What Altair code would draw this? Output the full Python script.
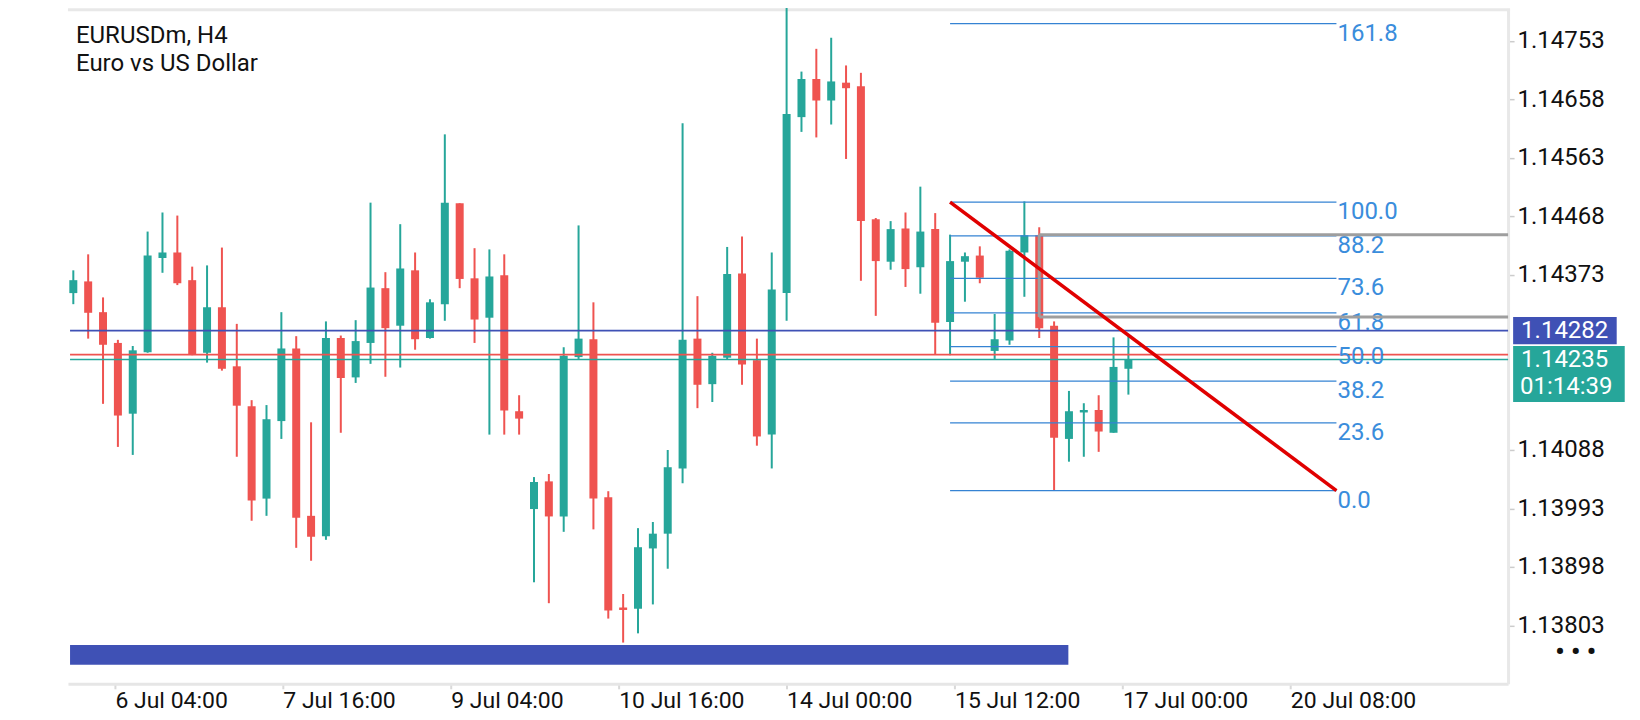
import altair as alt
import pandas as pd

# ---------------- data ----------------
opens = [1.14343, 1.14362, 1.14312, 1.14262, 1.14147, 1.14247, 1.14400, 1.14409, 1.14364, 1.14246,
         1.14320, 1.14224, 1.14159, 1.14009, 1.14135, 1.14253, 1.13981, 1.13948, 1.14270, 1.14206,
         1.14262, 1.14351, 1.14290, 1.14380, 1.14270, 1.14325, 1.14489, 1.14367, 1.14303, 1.14372,
         1.14151, 1.13992, 1.14037, 1.13980, 1.14239, 1.14268, 1.14011, 1.13832, 1.13830, 1.13928,
         1.13952, 1.14058, 1.14269, 1.14195, 1.14238, 1.14375, 1.14234, 1.14113, 1.14343, 1.14629,
         1.14691, 1.14656, 1.14685, 1.14679, 1.14463, 1.14394, 1.14448, 1.14385, 1.14447, 1.14296,
         1.14394, 1.14404, 1.14249, 1.14266, 1.14409, 1.14437, 1.14290, 1.14106, 1.14149, 1.14153,
         1.14116, 1.14220]
highs = [1.14380, 1.14406, 1.14336, 1.14267, 1.14257, 1.14443, 1.14474, 1.14469, 1.14386, 1.14388,
         1.14417, 1.14293, 1.14169, 1.14161, 1.14312, 1.14273, 1.14133, 1.14297, 1.14274, 1.14299,
         1.14490, 1.14377, 1.14455, 1.14409, 1.14333, 1.14601, 1.14489, 1.14416, 1.14414, 1.14406,
         1.14177, 1.14044, 1.14049, 1.14255, 1.14453, 1.14328, 1.14021, 1.13854, 1.13961, 1.13971,
         1.14088, 1.14619, 1.14338, 1.14246, 1.14418, 1.14435, 1.14269, 1.14409, 1.14812, 1.14703,
         1.14740, 1.14758, 1.14713, 1.14701, 1.14465, 1.14460, 1.14474, 1.14516, 1.14473, 1.14438,
         1.14409, 1.14419, 1.14309, 1.14414, 1.14492, 1.14450, 1.14297, 1.14184, 1.14164, 1.14177,
         1.14271, 1.14276]
lows = [1.14325, 1.14269, 1.14163, 1.14093, 1.14080, 1.14246, 1.14376, 1.14356, 1.14242, 1.14230,
        1.14217, 1.14077, 1.13973, 1.13981, 1.14106, 1.13929, 1.13908, 1.13942, 1.14116, 1.14197,
        1.14228, 1.14207, 1.14222, 1.14251, 1.14269, 1.14298, 1.14351, 1.14262, 1.14113, 1.14113,
        1.14113, 1.13873, 1.13839, 1.13955, 1.14236, 1.13959, 1.13814, 1.13775, 1.13790, 1.13837,
        1.13895, 1.14034, 1.14156, 1.14166, 1.14235, 1.14194, 1.14095, 1.14058, 1.14298, 1.14605,
        1.14596, 1.14617, 1.14561, 1.14363, 1.14306, 1.14381, 1.14353, 1.14342, 1.14243, 1.14242,
        1.14329, 1.14359, 1.14236, 1.14259, 1.14337, 1.14270, 1.14022, 1.14069, 1.14077, 1.14085,
        1.14116, 1.14178]
closes = [1.14364, 1.14311, 1.14259, 1.14144, 1.14250, 1.14404, 1.14409, 1.14359, 1.14243, 1.14320,
          1.14220, 1.14160, 1.14006, 1.14138, 1.14253, 1.13978, 1.13947, 1.14270, 1.14205, 1.14265,
          1.14352, 1.14286, 1.14383, 1.14268, 1.14328, 1.14490, 1.14366, 1.14300, 1.14370, 1.14152,
          1.14139, 1.14036, 1.13980, 1.14241, 1.14269, 1.14009, 1.13827, 1.13828, 1.13930, 1.13952,
          1.14060, 1.14267, 1.14194, 1.14241, 1.14374, 1.14227, 1.14110, 1.14349, 1.14634, 1.14691,
          1.14656, 1.14687, 1.14676, 1.14460, 1.14395, 1.14447, 1.14382, 1.14443, 1.14295, 1.14395,
          1.14403, 1.14368, 1.14268, 1.14412, 1.14437, 1.14286, 1.14108, 1.14151, 1.14153, 1.14118,
          1.14223, 1.14235]

x_tick_pos = [2.8, 14.1, 25.4, 36.7, 48.0, 59.3, 70.6, 81.9]
x_tick_labels = ["6 Jul 04:00", "7 Jul 16:00", "9 Jul 04:00", "10 Jul 16:00",
                 "14 Jul 00:00", "15 Jul 12:00", "17 Jul 00:00", "20 Jul 08:00"]
y_ticks = [1.13803, 1.13898, 1.13993, 1.14088, 1.14373, 1.14468, 1.14563, 1.14658, 1.14753]

fib_names = ["161.8", "100.0", "88.2", "73.6", "61.8", "50.0", "38.2", "23.6", "0.0"]
fib_prices = [1.14781, 1.14491, 1.14436, 1.14367, 1.14311, 1.14256, 1.14200, 1.14132, 1.14022]
fib_from_bar = 59
fib_to_bar = 85

level_price = 1.14282      # blue horizontal line
ask_price = 1.14243        # red line
bid_price = 1.14235        # green line
countdown = "01:14:39"

line_x = [-0.22, 96.55]
gray_box_x = [65, 96.55]
gray_box_y = [1.14304, 1.14438]
blue_bar_x = [-0.22, 66.96]
blue_bar_y = [1.13739, 1.13771]

# price tag boxes on the right (outside plot)
tag_x = [96.89, 103.86, 104.4]
tag_blue_y = [1.14260, 1.14304]
tag_green_y = [1.14166, 1.14257]
dots_pos = [101.1, 1.13760]

# ---------------- layout ----------------
W, H = 1441, 676
XDOM = [-0.36, 96.55]
YDOM = [1.13708, 1.14806]
FONT = "Roboto"
UP, DOWN = "#26a69a", "#ef5350"
FIB_LINE, FIB_TEXT = "#3583d3", "#3a8ddc"

xs = alt.Scale(domain=XDOM, nice=False, zero=False, padding=0)
ys = alt.Scale(domain=YDOM, nice=False, zero=False, padding=0)

label_expr = "[" + ",".join("'%s'" % s for s in x_tick_labels) + "][indexof([" + \
    ",".join(str(v) for v in x_tick_pos) + "], datum.value)]"

xaxis = alt.Axis(values=x_tick_pos, labelExpr=label_expr, title=None, grid=False,
                 orient="bottom", labelAlign="left", labelBaseline="middle", labelPadding=12,
                 labelFontSize=23, labelFont=FONT, labelColor="#111111", labelFlush=False,
                 labelOverlap=False, tickSize=5, tickColor="#d9d9d9", tickWidth=2,
                 domainColor="#e6e6e6", domainWidth=3)
yaxis = alt.Axis(values=y_ticks, labelExpr="format(datum.value, '.5f')", title=None, grid=False,
                 orient="right", labelPadding=3, labelFontSize=24, labelFont=FONT,
                 labelColor="#111111", tickSize=6, tickColor="#cccccc", tickWidth=1.5,
                 domainColor="#e8e8e8", domainWidth=3, labelOverlap=False)


def X(f):
    return alt.X(f, type="quantitative", scale=xs, axis=xaxis)


def Y(f):
    return alt.Y(f, type="quantitative", scale=ys, axis=yaxis)


candles = pd.DataFrame({
    "i": list(range(len(opens))),
    "open": opens, "high": highs, "low": lows, "close": closes,
})
candles["dir"] = ["up" if c >= o else "down" for o, c in zip(opens, closes)]
cscale = alt.Scale(domain=["up", "down"], range=[UP, DOWN])

wicks = alt.Chart(candles).mark_rule(strokeWidth=2).encode(
    x=X("i"), y=Y("low"), y2="high",
    color=alt.Color("dir:N", scale=cscale, legend=None))
bodies = alt.Chart(candles).mark_bar(size=8).encode(
    x=X("i"), y=Y("open"), y2="close",
    color=alt.Color("dir:N", scale=cscale, legend=None))

top_frame = alt.Chart(pd.DataFrame({"a": [0]})).mark_rule(
    color="#e8e8e8", strokeWidth=3).encode(x=alt.value(0), x2=alt.value(W + 2), y=alt.value(1.5))

blue_bar = alt.Chart(pd.DataFrame({"x": [blue_bar_x[0]], "x2": [blue_bar_x[1]],
                                   "y": [blue_bar_y[0]], "y2": [blue_bar_y[1]]})).mark_rect(
    color="#3f51b5").encode(x=X("x"), x2="x2", y=Y("y"), y2="y2")

# gray rectangle object: its left, top and bottom edges (right edge lies on the frame)
gray_h = alt.Chart(pd.DataFrame({"x": [gray_box_x[0]] * 2, "x2": [gray_box_x[1]] * 2,
                                 "y": gray_box_y})).mark_rule(
    color="#9e9e9e", strokeWidth=3).encode(x=X("x"), x2="x2", y=Y("y"))
gray_v = alt.Chart(pd.DataFrame({"x": [gray_box_x[0]], "y": [gray_box_y[0]],
                                 "y2": [gray_box_y[1]]})).mark_rule(
    color="#9e9e9e", strokeWidth=3).encode(x=X("x"), y=Y("y"), y2="y2")

fib_df = pd.DataFrame({"name": fib_names, "p": fib_prices,
                       "x": [fib_from_bar] * len(fib_names), "x2": [fib_to_bar] * len(fib_names)})
fib_lines = alt.Chart(fib_df).mark_rule(color=FIB_LINE, strokeWidth=1.2).encode(
    x=X("x"), x2="x2", y=Y("p"))
fib_text = alt.Chart(fib_df).mark_text(align="left", baseline="middle", dx=1, dy=10,
                                       fontSize=24, font=FONT, color=FIB_TEXT).encode(
    x=X("x2"), y=Y("p"), text="name:N")

price_lines = alt.Chart(pd.DataFrame({"p": [ask_price, bid_price, level_price],
                                      "c": ["ask", "bid", "level"],
                                      "x": [line_x[0]] * 3, "x2": [line_x[1]] * 3})).mark_rule().encode(
    x=X("x"), x2="x2", y=Y("p"),
    color=alt.Color("c:N", scale=alt.Scale(domain=["ask", "bid", "level"],
                                           range=[DOWN, UP, "#3f51b5"]), legend=None),
    strokeWidth=alt.StrokeWidth("c:N", scale=alt.Scale(domain=["ask", "bid", "level"],
                                                       range=[1.6, 1.6, 2.2]), legend=None))

trend = alt.Chart(pd.DataFrame({"x": [fib_from_bar], "x2": [fib_to_bar],
                                "y": [fib_prices[1]], "y2": [fib_prices[-1]]})).mark_rule(
    color="#e00000", strokeWidth=3.5).encode(x=X("x"), x2="x2", y=Y("y"), y2="y2")

tag_blue = alt.Chart(pd.DataFrame({"x": [tag_x[0]], "x2": [tag_x[1]],
                                   "y": [tag_blue_y[0]], "y2": [tag_blue_y[1]]})).mark_rect(
    color="#3f51b5").encode(x=X("x"), x2="x2", y=Y("y"), y2="y2")
tag_green = alt.Chart(pd.DataFrame({"x": [tag_x[0]], "x2": [tag_x[2]],
                                    "y": [tag_green_y[0]], "y2": [tag_green_y[1]]})).mark_rect(
    color=UP).encode(x=X("x"), x2="x2", y=Y("y"), y2="y2")
tag_text = alt.Chart(pd.DataFrame({"x": [tag_x[0], tag_x[0]], "p": [level_price, bid_price],
                                   "t": ["%.5f" % level_price, "%.5f" % bid_price]})).mark_text(
    align="left", baseline="middle", dx=8, fontSize=24, font=FONT, color="white").encode(
    x=X("x"), y=Y("p"), text="t:N")
tag_timer = alt.Chart(pd.DataFrame({"x": [tag_x[0]], "p": [bid_price], "t": [countdown]})).mark_text(
    align="left", baseline="middle", dx=7, dy=27, fontSize=24, font=FONT, color="white").encode(
    x=X("x"), y=Y("p"), text="t:N")

dots = alt.Chart(pd.DataFrame({"x": [dots_pos[0]], "p": [dots_pos[1]], "t": ["\u2022 \u2022 \u2022"]})).mark_text(
    align="center", baseline="middle", fontSize=26, font=FONT, fontWeight="bold", color="#111111").encode(
    x=X("x"), y=Y("p"), text="t:N")

title1 = alt.Chart(pd.DataFrame({"t": ["EURUSDm, H4"]})).mark_text(
    align="left", baseline="middle", fontSize=24, font=FONT, color="#111111").encode(
    x=alt.value(8), y=alt.value(28), text="t:N")
title2 = alt.Chart(pd.DataFrame({"t": ["Euro vs US Dollar"]})).mark_text(
    align="left", baseline="middle", fontSize=24, font=FONT, color="#111111").encode(
    x=alt.value(8), y=alt.value(56), text="t:N")

chart = alt.layer(
    top_frame, blue_bar, wicks, bodies, price_lines, fib_lines, fib_text, gray_h, gray_v, trend,
    tag_blue, tag_green, tag_text, tag_timer, dots, title1, title2
).resolve_scale(color="independent", strokeWidth="independent").properties(
    width=W, height=H,
    padding={"left": 60, "top": 0, "right": 124, "bottom": 34},
    autosize=alt.AutoSizeParams(type="none"),
    background="white",
).configure_view(strokeWidth=0)

chart.save("out.html", embed_options={"renderer": "svg", "actions": False})
